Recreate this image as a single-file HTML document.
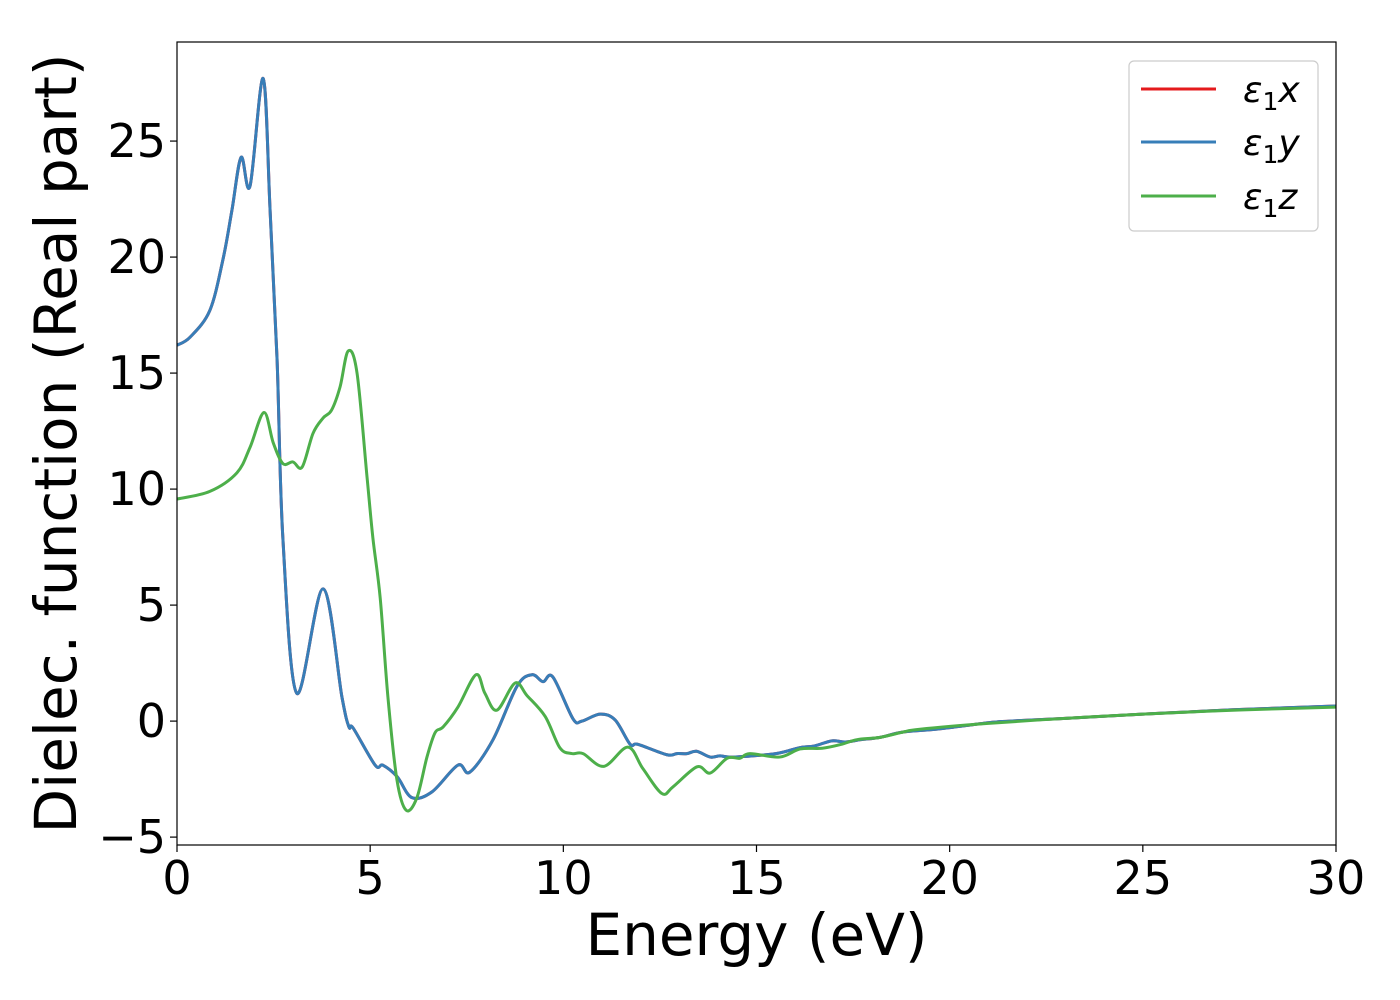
<!DOCTYPE html>
<html><head><meta charset="utf-8"><style>
html,body{margin:0;padding:0;background:#fff;}
svg{display:block;font-family:"DejaVu Sans","Liberation Sans",sans-serif;}
</style></head><body>
<svg id="chart" width="1400" height="1000" viewBox="0 0 1400 1000">
<g id="plot"></g>
</svg>
<script>
const energyXY = [0,0.34,0.85,1.19,1.42,1.66,1.89,2.23,2.41,2.59,2.74,3.1,3.78,4.27,4.45,4.56,5.13,5.33,5.7,6.08,6.6,7.27,7.58,8.18,8.8,9.19,9.47,9.73,10.25,10.48,10.95,11.34,11.73,11.93,12.68,12.94,13.2,13.45,13.8,14.06,14.4,15.5,16.1,16.5,16.95,17.3,17.7,18.2,18.8,19.7,21,21.56,23,25,26,27.5,30];
const eps1x = [16.2,16.55,17.7,19.9,22.0,24.3,23.06,27.7,22.0,15.6,7.9,1.2,5.7,1.03,-0.25,-0.3,-1.9,-1.9,-2.4,-3.3,-3.05,-1.9,-2.2,-0.8,1.5,2.0,1.7,1.9,0.1,0.0,0.3,0.05,-1.0,-1.0,-1.45,-1.4,-1.4,-1.3,-1.55,-1.5,-1.55,-1.4,-1.15,-1.07,-0.85,-0.9,-0.8,-0.7,-0.47,-0.34,-0.07,0,0.12,0.3,0.38,0.5,0.65];
const eps1y = [16.2,16.55,17.7,19.9,22.0,24.3,23.06,27.7,22.0,15.6,7.9,1.2,5.7,1.03,-0.25,-0.3,-1.9,-1.9,-2.4,-3.3,-3.05,-1.9,-2.2,-0.8,1.5,2.0,1.7,1.9,0.1,0.0,0.3,0.05,-1.0,-1.0,-1.45,-1.4,-1.4,-1.3,-1.55,-1.5,-1.55,-1.4,-1.15,-1.07,-0.85,-0.9,-0.8,-0.7,-0.47,-0.34,-0.07,0,0.12,0.3,0.38,0.5,0.65];
const energyZ = [0,0.85,1.55,1.89,2.25,2.49,2.74,3.0,3.24,3.52,3.78,4.0,4.22,4.43,4.66,4.92,5.07,5.26,5.46,5.69,5.93,6.21,6.47,6.68,6.89,7.27,7.74,7.97,8.28,8.75,9.06,9.53,9.91,10.22,10.51,11.05,11.67,12.06,12.55,12.84,13.46,13.8,14.24,14.57,14.83,15.6,16.13,16.7,17.2,17.6,18.2,18.8,19.23,21,23,25,27.5,30];
const eps1z = [9.57,9.9,10.7,11.8,13.3,12.0,11.1,11.17,10.95,12.4,13.06,13.4,14.4,15.95,15.0,10.5,7.9,5.3,1.03,-2.5,-3.84,-3.3,-1.55,-0.5,-0.25,0.6,2.0,1.2,0.47,1.64,1.1,0.2,-1.15,-1.4,-1.4,-1.95,-1.12,-2.05,-3.12,-2.83,-1.97,-2.24,-1.6,-1.6,-1.4,-1.55,-1.2,-1.17,-1.0,-0.8,-0.7,-0.47,-0.35,-0.1,0.12,0.3,0.48,0.6];
const xTicks = [0,5,10,15,20,25,30];
const yTicks = [-5,0,5,10,15,20,25];
const seriesNames = ["ε₁x","ε₁y","ε₁z"];

const L=177,R=1336,T=42,B=845;
const xMin=0,xMax=30,yMin=-5.34,yMax=29.27;
const sx=v=>L+(v-xMin)/(xMax-xMin)*(R-L);
const sy=v=>B-(v-yMin)/(yMax-yMin)*(B-T);
const NS="http://www.w3.org/2000/svg";
const svg=document.getElementById('chart');
const plot=document.getElementById('plot');
function mk(tag,attrs,parent){const e=document.createElementNS(NS,tag);for(const k in attrs)e.setAttribute(k,attrs[k]);(parent||svg).appendChild(e);return e;}

const defs=mk('defs',{});
const cp=mk('clipPath',{id:'clip'},defs);
mk('rect',{x:L,y:T,width:R-L,height:B-T},cp);

function pathFor(xs,ys){
  const p=xs.map((x,i)=>[sx(x),sy(ys[i])]);
  let d=`M${p[0][0]},${p[0][1]}`;
  for(let i=0;i<p.length-1;i++){
    const p0=p[Math.max(i-1,0)],p1=p[i],p2=p[i+1],p3=p[Math.min(i+2,p.length-1)];
    const c1=[p1[0]+(p2[0]-p0[0])/6,p1[1]+(p2[1]-p0[1])/6];
    const c2=[p2[0]-(p3[0]-p1[0])/6,p2[1]-(p3[1]-p1[1])/6];
    d+=` C${c1[0]},${c1[1]} ${c2[0]},${c2[1]} ${p2[0]},${p2[1]}`;
  }
  return d;
}
const g=mk('g',{'clip-path':'url(#clip)'},plot);
const lx=mk('path',{d:pathFor(energyXY,eps1x),fill:'none',stroke:'#e41a1c','stroke-width':3},g);


const ly=mk('path',{d:pathFor(energyXY,eps1y),fill:'none',stroke:'#377eb8','stroke-width':3},g);


const lz=mk('path',{d:pathFor(energyZ,eps1z),fill:'none',stroke:'#4daf4a','stroke-width':3},g);



const frame=mk('rect',{x:L,y:T,width:R-L,height:B-T,fill:'none',stroke:'#000','stroke-width':1.2});



xTicks.forEach(v=>{
  const tk=mk('line',{x1:sx(v),x2:sx(v),y1:B,y2:B+7,stroke:'#000','stroke-width':1.2});
  
  
  const t=mk('text',{x:sx(v),y:B+49,'text-anchor':'middle','font-size':46});
  t.textContent=String(v);
  
  
});
yTicks.forEach(v=>{
  const tk=mk('line',{x1:L-7,x2:L,y1:sy(v),y2:sy(v),stroke:'#000','stroke-width':1.2});
  
  
  const t=mk('text',{x:L-11,y:sy(v)+16,'text-anchor':'end','font-size':46});
  t.textContent=v<0?'−'+Math.abs(v):String(v);
  
  
});
const xt=mk('text',{x:(L+R)/2,y:955,'text-anchor':'middle','font-size':58});
xt.textContent='Energy (eV)';


const yt=mk('text',{x:0,y:0,'text-anchor':'middle','font-size':58,transform:`translate(76,${(T+B)/2}) rotate(-90)`});
yt.textContent='Dielec. function (Real part)';



const lg=mk('g',{});


mk('rect',{x:1129,y:61,width:189,height:170,rx:5,fill:'#fff',stroke:'#ccc','stroke-width':1.2},lg);
const cols=['#e41a1c','#377eb8','#4daf4a'];
const subs=['x','y','z'];
[89,142,196].forEach((yy,i)=>{
  const e=mk('g',{},lg);
  
  
  mk('line',{x1:1141,x2:1216,y1:yy,y2:yy,stroke:cols[i],'stroke-width':3},e);
  const t=mk('text',{x:1243,y:yy+13,'font-size':36},e);
  const a=mk('tspan',{'font-style':'italic'},t);a.textContent='ε';
  const b=mk('tspan',{'font-size':25,dy:8},t);b.textContent='1';
  const c=mk('tspan',{'font-style':'italic',dy:-8},t);c.textContent=subs[i];
});
</script>
</body></html>
